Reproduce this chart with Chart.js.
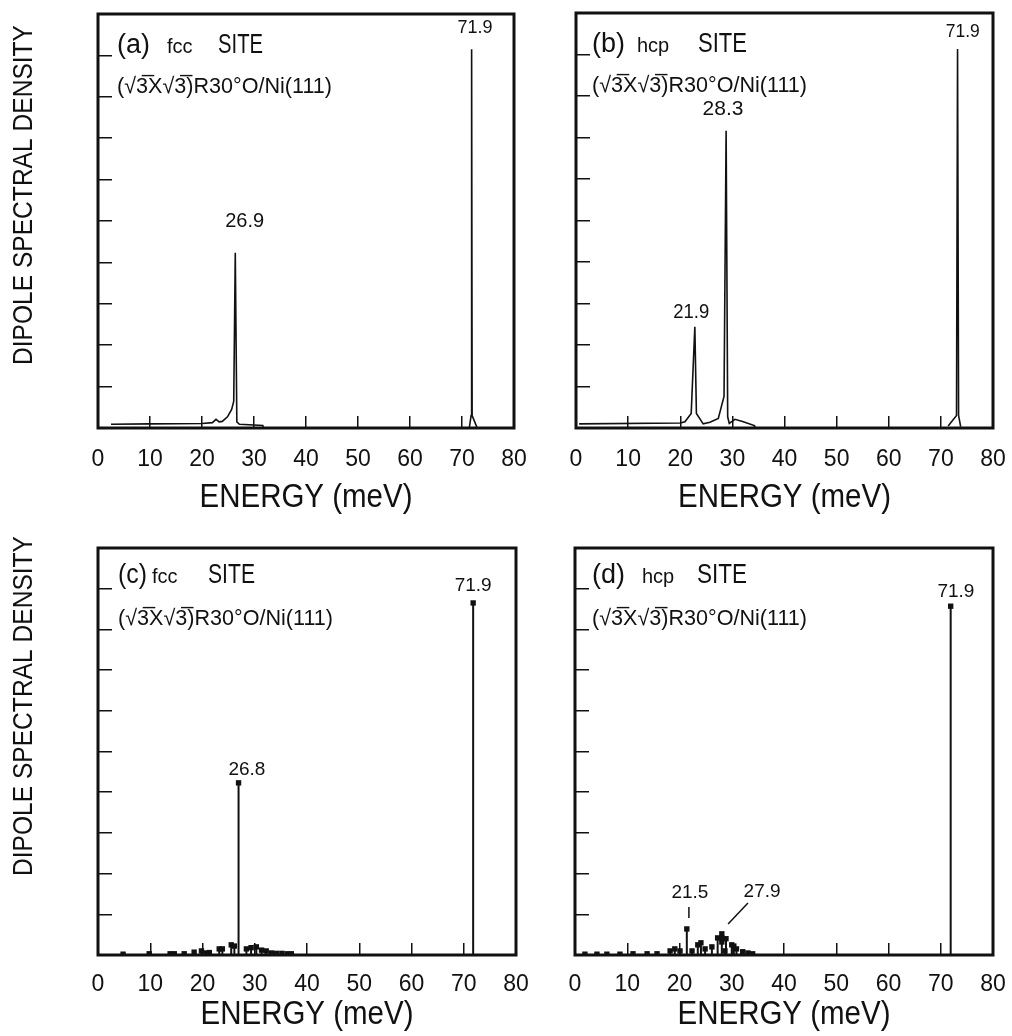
<!DOCTYPE html>
<html>
<head>
<meta charset="utf-8">
<script src="https://cdn.jsdelivr.net/npm/chart.js@4.4.0/dist/chart.umd.min.js"></script>
<style>
  html, body { margin: 0; padding: 0; background: #fff; }
  #wrap { position: relative; width: 1012px; height: 1036px; }
  .cell { position: absolute; }
</style>
</head>
<body>
<div id="wrap">
  <div class="cell" style="left:0;top:0;width:530px;height:518px"><canvas id="chartA"></canvas></div>
  <div class="cell" style="left:530px;top:0;width:482px;height:518px"><canvas id="chartB"></canvas></div>
  <div class="cell" style="left:0;top:518px;width:530px;height:518px"><canvas id="chartC"></canvas></div>
  <div class="cell" style="left:530px;top:518px;width:482px;height:518px"><canvas id="chartD"></canvas></div>
</div>
<script>
// (a) fcc site - continuous spectrum
var fccX = [2.5, 10, 20, 22.0, 22.7, 23.3, 23.9, 24.9, 25.7, 26.1, 26.4, 26.7, 27.2, 31.7, 31.8, 50, 71.4, 71.75, 71.85, 71.95, 72.7, 72.9];
var fccY = [0.09, 0.1, 0.11, 0.13, 0.21, 0.15, 0.16, 0.27, 0.45, 0.64, 4.23, 0.15, 0.09, 0.06, 0, null, 0, 0.3, 9.15, 0.3, 0.07, 0];
// (b) hcp site - continuous spectrum
var hcpX = [0.6, 20, 20.9, 22.1, 22.8, 23.1, 24.4, 25.7, 27.3, 27.9, 28.4, 28.8, 29.1, 29.4, 30.5, 32.1, 34.2, 34.3, 50, 71.4, 73.0, 73.2, 73.4, 73.8];
var hcpY = [0.1, 0.12, 0.15, 0.35, 2.44, 0.35, 0.1, 0.14, 0.23, 0.52, 0.76, 7.16, 0.27, 0.11, 0.21, 0.15, 0.06, 0, null, 0.05, 0.3, 9.13, 0.3, 0.03];
// (c) fcc site - discrete modes
var fccModeX = [4.8, 9.8, 13.8, 14.6, 16.5, 18.4, 19.8, 20.8, 21.3, 23.2, 23.8, 25.5, 26.1, 26.9, 28.4, 29.3, 30.3, 31.3, 32.2, 33.2, 34.2, 35.2, 36.2, 37.0, 71.8];
var fccModeY = [0.02, 0.03, 0.03, 0.03, 0.03, 0.07, 0.1, 0.05, 0.06, 0.15, 0.15, 0.25, 0.22, 4.23, 0.15, 0.18, 0.2, 0.12, 0.1, 0.05, 0.04, 0.04, 0.03, 0.03, 8.65];
// (d) hcp site - discrete modes
var hcpModeX = [1.9, 4.2, 6.1, 8.6, 11.1, 13.8, 15.7, 18.2, 19.1, 20.1, 21.4, 22.4, 23.5, 24.1, 24.9, 26.2, 27.3, 28.1, 28.1, 28.1, 28.7, 28.9, 30.0, 30.4, 30.9, 32.1, 33.1, 34.0, 71.9];
var hcpModeY = [0.02, 0.02, 0.02, 0.02, 0.03, 0.03, 0.03, 0.1, 0.15, 0.1, 0.64, 0.1, 0.25, 0.3, 0.15, 0.2, 0.42, 0.52, 0.42, 0.32, 0.1, 0.4, 0.25, 0.22, 0.15, 0.08, 0.05, 0.03, 8.57];

// peak labels (text, energy, height where the baseline sits)
var aPeakText = ['26.9', '71.9'], aPeakX = [28.2, 72.5], aPeakY = [4.86, 9.54];
var bPeakText = ['21.9', '28.3', '71.9'], bPeakX = [22.1, 28.2, 74.2], bPeakY = [2.65, 7.54, 9.42];
var cPeakText = ['26.8', '71.9'], cPeakX = [28.5, 71.8], cPeakY = [4.42, 8.94];
var dPeakText = ['21.5', '27.9', '71.9'], dPeakX = [22.0, 35.8, 72.9], dPeakY = [1.4, 1.43, 8.8];

const INK = '#111';
const FONT = "'Liberation Sans', 'DejaVu Sans', sans-serif";
const SURFACE = '(\u221A3\u0305X\u221A3\u0305)R30\u00B0O/Ni(111)';

function curve(xs, ys) {
  return xs.map((x, i) => ({ x: x, y: ys[i] }));
}
function stems(xs, ys) {
  let pts = [];
  xs.forEach((x, i) => {
    pts.push({ x: x, y: 0 }, { x: x, y: ys[i] }, { x: x, y: null });
  });
  return pts;
}

function panelPlugin(p) {
  return {
    id: 'panel',
    afterDraw(chart) {
      const ctx = chart.ctx, a = chart.chartArea;
      const xs = chart.scales.x, ys = chart.scales.y;
      ctx.save();
      ctx.strokeStyle = INK;
      ctx.lineWidth = 3;
      ctx.strokeRect(a.left, a.top, a.right - a.left, a.bottom - a.top);
      ctx.fillStyle = INK;
      ctx.textBaseline = 'alphabetic';
      ctx.textAlign = 'left';
      p.head.forEach(h => {
        ctx.font = h.size + 'px ' + FONT;
        ctx.fillText(h.t, a.left + p.hx + h.dx, a.top + p.hy, h.w);
      });
      ctx.font = '22px ' + FONT;
      ctx.fillText(SURFACE, a.left + p.hx, a.top + p.hy2, 215);
      ctx.textAlign = 'center';
      p.text.forEach((t, i) => {
        ctx.font = p.sizes[i] + 'px ' + FONT;
        ctx.fillText(t, xs.getPixelForValue(p.px[i]), ys.getPixelForValue(p.py[i]), p.widths[i]);
      });
      // leader lines
      ctx.lineWidth = 1.5;
      (p.leaders || []).forEach(l => {
        ctx.beginPath();
        ctx.moveTo(xs.getPixelForValue(l[0]), ys.getPixelForValue(l[1]));
        ctx.lineTo(xs.getPixelForValue(l[2]), ys.getPixelForValue(l[3]));
        ctx.stroke();
      });
      ctx.font = '33px ' + FONT;
      ctx.fillText('ENERGY (meV)', (a.left + a.right) / 2, a.bottom + p.xt, 213);
      if (p.yt) {
        ctx.translate(32, p.yt);
        ctx.rotate(-Math.PI / 2);
        ctx.font = '28px ' + FONT;
        ctx.fillText('DIPOLE SPECTRAL DENSITY', 0, 0, 340);
      }
      ctx.restore();
    }
  };
}

function makeChart(id, datasets, box, plugin) {
  return new Chart(document.getElementById(id), {
    type: 'line',
    data: { datasets: datasets },
    options: {
      responsive: true,
      maintainAspectRatio: false,
      animation: false,
      layout: { padding: { left: 0, right: box.right, top: box.top, bottom: 0 } },
      plugins: { legend: { display: false }, tooltip: { enabled: false } },
      scales: {
        x: {
          type: 'linear', min: 0, max: 80,
          ticks: { stepSize: 10, padding: box.labelPad, color: INK, font: { family: FONT, size: 23 }, maxRotation: 0 },
          grid: { drawOnChartArea: false, tickLength: -12, color: INK, lineWidth: 1.5 },
          border: { display: false },
          afterFit: s => { s.height = box.axisH; s.paddingLeft = 0; s.paddingRight = 0; }
        },
        y: {
          min: 0, max: 10,
          ticks: { stepSize: 1, display: false },
          grid: { drawOnChartArea: false, tickLength: -14, color: INK, lineWidth: 1.5 },
          border: { display: false },
          afterFit: s => { s.width = box.left; s.paddingTop = 0; s.paddingBottom = 0; }
        }
      }
    },
    plugins: [plugin]
  });
}

function curveSet(xs, ys) {
  return { data: curve(xs, ys), borderColor: INK, borderWidth: 1.6, pointRadius: 0, tension: 0, spanGaps: false };
}
function stemSets(xs, ys) {
  return [
    { data: stems(xs, ys), borderColor: INK, borderWidth: 2, pointRadius: 0, tension: 0, spanGaps: false },
    { data: curve(xs, ys), showLine: false, pointStyle: 'rect', pointRadius: 3.8, backgroundColor: INK, borderWidth: 0 }
  ];
}

makeChart('chartA', [curveSet(fccX, fccY)],
  { left: 98, right: 16, top: 14, axisH: 90, labelPad: 30 },
  panelPlugin({
    hx: 19, hy: 39, hy2: 79, xt: 79, yt: 195,
    head: [{ t: '(a)', dx: 0, size: 27, w: 35 }, { t: 'fcc', dx: 50, size: 20, w: 30 }, { t: 'SITE', dx: 101, size: 27, w: 45 }],
    text: aPeakText, px: aPeakX, py: aPeakY, sizes: [21, 18], widths: [39, 36]
  }));

makeChart('chartB', [curveSet(hcpX, hcpY)],
  { left: 46, right: 19, top: 13, axisH: 90, labelPad: 30 },
  panelPlugin({
    hx: 16, hy: 39, hy2: 79, xt: 79,
    head: [{ t: '(b)', dx: 0, size: 27, w: 33 }, { t: 'hcp', dx: 45, size: 20, w: 33 }, { t: 'SITE', dx: 106, size: 27, w: 49 }],
    text: bPeakText, px: bPeakX, py: bPeakY, sizes: [21, 21, 18], widths: [36, 46, 34]
  }));

makeChart('chartC', stemSets(fccModeX, fccModeY),
  { left: 98, right: 14, top: 30, axisH: 81, labelPad: 28 },
  panelPlugin({
    hx: 20, hy: 35, hy2: 77, xt: 69, yt: 188,
    head: [{ t: '(c)', dx: 0, size: 27, w: 29 }, { t: 'fcc', dx: 34, size: 20, w: 29 }, { t: 'SITE', dx: 90, size: 27, w: 47 }],
    text: cPeakText, px: cPeakX, py: cPeakY, sizes: [19, 19], widths: [42, 40]
  }));

makeChart('chartD', stemSets(hcpModeX, hcpModeY),
  { left: 45, right: 19, top: 30, axisH: 81, labelPad: 28 },
  panelPlugin({
    hx: 17, hy: 35, hy2: 77, xt: 69,
    head: [{ t: '(d)', dx: 0, size: 27, w: 33 }, { t: 'hcp', dx: 50, size: 20, w: 35 }, { t: 'SITE', dx: 105, size: 27, w: 50 }],
    text: dPeakText, px: dPeakX, py: dPeakY, sizes: [19, 19, 19], widths: [37, 39, 38],
    leaders: [[21.8, 1.18, 21.8, 0.91], [33.1, 1.28, 29.3, 0.76]]
  }));
</script>
</body>
</html>
